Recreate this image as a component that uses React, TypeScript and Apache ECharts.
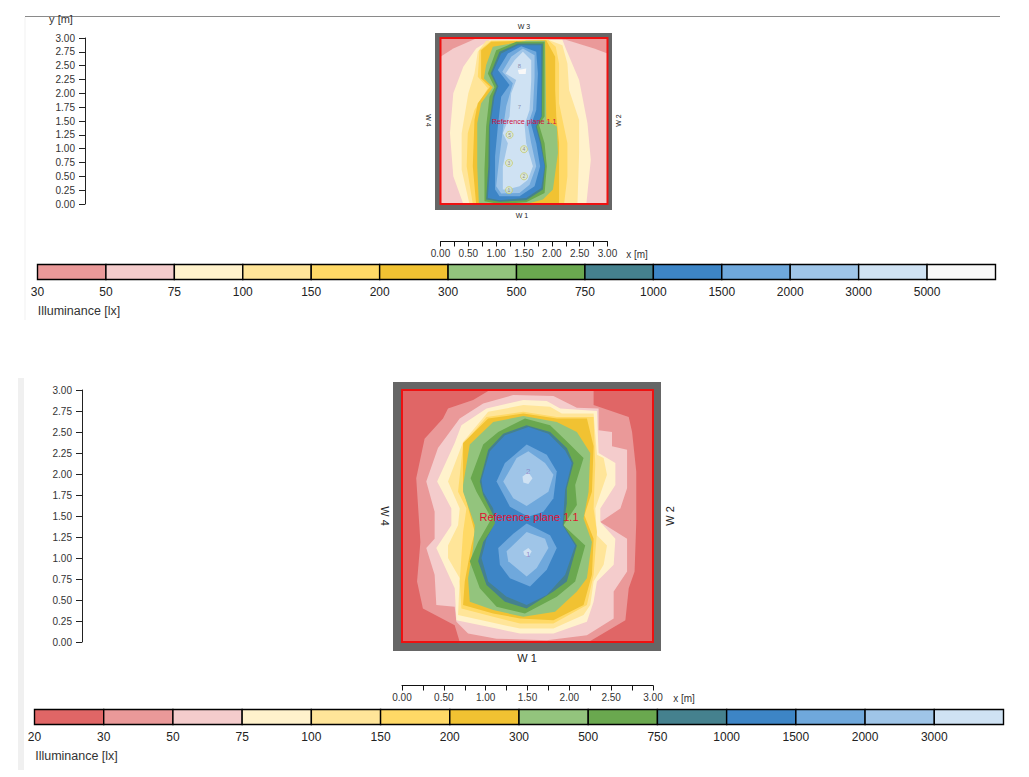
import React, { useEffect, useRef } from "react";
import * as echarts from "echarts";

type Ring = number[][];
type Contour = { color: string; rings: Ring[] };

const FONT = '"Liberation Sans", Arial, sans-serif';

const PALETTE: Record<number, string> = {
  20: "#e06666", 30: "#ea9999", 50: "#f4cccc", 75: "#fff2cc", 100: "#ffe599", 150: "#ffd966", 200: "#f1c232",
  300: "#93c47d", 500: "#6aa84f", 750: "#45818e", 1000: "#3d85c6", 1500: "#6fa8dc", 2000: "#9fc5e8",
  3000: "#cfe2f3", 5000: "#f8f8f8",
};

const axisTicks = [0, 0.25, 0.5, 0.75, 1, 1.25, 1.5, 1.75, 2, 2.25, 2.5, 2.75, 3];
const legendLevelsTop = [30, 50, 75, 100, 150, 200, 300, 500, 750, 1000, 1500, 2000, 3000, 5000];
const legendLevelsBottom = [20, 30, 50, 75, 100, 150, 200, 300, 500, 750, 1000, 1500, 2000, 3000];

const fullRoom: Ring = [[0, 0], [3, 0], [3, 3], [0, 3]];

// --- Upper plan: isolux contours in metres
const top50: Ring = [[0, 0], [3, 0], [3, 2.72], [2.76, 2.81], [2.25, 2.97], [0.64, 2.99], [0.23, 2.81], [0, 2.66]];
const top75: Ring = [[0.41, 0], [0.23, 0.5], [0.17, 1.28], [0.23, 2.0], [0.41, 2.48], [0.64, 2.81], [0.88, 2.96], [2.19, 2.97], [2.25, 2.81], [2.49, 2.24], [2.64, 1.46], [2.7, 0.8], [2.62, 0]];
const top100: Ring = [[0.52, 0], [0.38, 0.62], [0.38, 1.28], [0.5, 2.0], [0.61, 2.36], [0.67, 2.75], [0.82, 2.95], [1.93, 2.97], [2.19, 2.87], [2.28, 2.54], [2.31, 2.06], [2.49, 1.52], [2.49, 0.92], [2.46, 0]];
const top150: Ring = [[0.58, 0], [0.47, 0.68], [0.49, 1.28], [0.61, 1.7], [0.85, 2.09], [0.67, 2.3], [0.7, 2.78], [0.91, 2.95], [1.93, 2.97], [2.07, 2.84], [2.13, 2.54], [2.13, 1.82], [2.28, 1.1], [2.28, 0.5], [2.22, 0]];
const top200: Ring = [[0.64, 0], [0.58, 0.68], [0.61, 1.52], [0.67, 1.82], [0.89, 2.12], [0.73, 2.27], [0.73, 2.78], [0.91, 2.93], [1.9, 2.96], [2.06, 2.66], [2.06, 2.06], [2.08, 1.58], [2.13, 1.1], [2.13, 0]];
const top300: Ring = [[0.69, 0], [0.66, 0.68], [0.66, 1.46], [0.73, 1.82], [0.94, 2.11], [0.78, 2.27], [0.82, 2.51], [0.94, 2.84], [1.54, 2.95], [1.88, 2.95], [1.9, 1.52], [2.09, 1.4], [2.11, 0.92], [2.02, 0.26], [1.84, 0.08], [1.54, 0]];
const top500: Ring = [[0.79, 0.05], [0.79, 0.62], [0.82, 1.4], [0.88, 1.94], [0.97, 2.11], [0.85, 2.36], [1.0, 2.78], [1.36, 2.93], [1.87, 2.93], [1.87, 1.58], [1.77, 1.43], [1.87, 1.1], [1.91, 0.68], [1.87, 0.2], [1.54, 0.03], [1.06, 0]];
const top750: Ring = [[0.82, 0.08], [0.86, 0.68], [0.87, 1.4], [0.94, 1.94], [1.01, 2.13], [0.9, 2.36], [1.06, 2.75], [1.39, 2.9], [1.84, 2.9], [1.82, 1.58], [1.73, 1.4], [1.81, 1.1], [1.88, 0.68], [1.84, 0.26], [1.54, 0.07], [1.06, 0.04]];
const top1000: Ring = [[0.85, 0.11], [0.89, 0.68], [0.89, 1.4], [0.97, 1.94], [1.04, 2.13], [0.93, 2.36], [1.09, 2.72], [1.39, 2.87], [1.81, 2.87], [1.81, 1.58], [1.71, 1.4], [1.79, 1.1], [1.87, 0.68], [1.81, 0.29], [1.54, 0.11], [1.06, 0.07]];
const top1500: Ring = [[0.98, 0.26], [0.98, 0.86], [1.03, 1.4], [1.09, 1.94], [1.24, 2.15], [1.03, 2.42], [1.21, 2.72], [1.45, 2.85], [1.72, 2.75], [1.75, 2.36], [1.72, 1.7], [1.63, 1.43], [1.72, 1.1], [1.79, 0.68], [1.69, 0.32], [1.42, 0.14], [1.06, 0.14]];
const top2000: Ring = [[1.0, 0.32], [1.06, 0.86], [1.12, 1.34], [1.18, 1.76], [1.3, 2.18], [1.11, 2.39], [1.27, 2.66], [1.48, 2.81], [1.69, 2.69], [1.69, 2.3], [1.66, 1.7], [1.57, 1.43], [1.63, 1.1], [1.72, 0.68], [1.6, 0.35], [1.42, 0.2], [1.09, 0.19]];
const top3000: Ring = [[1.12, 0.26], [1.12, 0.68], [1.21, 1.1], [1.12, 1.28], [1.24, 1.58], [1.27, 2.0], [1.36, 2.24], [1.17, 2.36], [1.33, 2.6], [1.48, 2.75], [1.63, 2.6], [1.63, 2.24], [1.6, 1.7], [1.51, 1.43], [1.54, 1.1], [1.66, 0.68], [1.57, 0.44], [1.42, 0.32], [1.18, 0.26]];
const top5000: Ring = [[1.39, 2.42], [1.54, 2.45], [1.53, 2.35], [1.41, 2.35]];

// --- Lower plan: isolux contours in metres
const low30: Ring = [[0.17, 1.95], [0.27, 2.42], [0.49, 2.66], [0.55, 2.78], [0.85, 2.88], [1.05, 3], [2.29, 3], [2.29, 2.82], [2.71, 2.68], [2.75, 2.5], [2.8, 2.03], [2.8, 1.43], [2.78, 0.84], [2.71, 0.64], [2.67, 0.26], [2.23, 0], [0.69, 0], [0.63, 0.2], [0.25, 0.4], [0.18, 0.72], [0.22, 1.19]];
const low50: Ring = [[0.29, 1.91], [0.43, 2.31], [0.69, 2.66], [0.97, 2.84], [1.33, 2.94], [1.81, 2.93], [2.09, 2.79], [2.35, 2.78], [2.35, 2.52], [2.51, 2.5], [2.51, 2.33], [2.69, 2.29], [2.69, 1.83], [2.61, 1.59], [2.37, 1.43], [2.69, 1.23], [2.69, 0.84], [2.53, 0.6], [2.53, 0.28], [2.21, 0.08], [1.73, 0.02], [1.13, 0.04], [0.79, 0.1], [0.65, 0.24], [0.63, 0.42], [0.41, 0.44], [0.39, 0.8], [0.29, 1.12], [0.39, 1.23], [0.39, 1.55]];
const low75: Ring = [[0.42, 1.91], [0.63, 2.37], [0.71, 2.58], [1.01, 2.78], [1.45, 2.88], [1.73, 2.87], [1.89, 2.78], [2.33, 2.75], [2.35, 2.25], [2.55, 2.13], [2.55, 1.87], [2.37, 1.59], [2.37, 1.43], [2.55, 1.23], [2.53, 0.92], [2.33, 0.72], [2.29, 0.48], [2.21, 0.24], [1.81, 0.1], [1.41, 0.1], [1.13, 0.16], [0.65, 0.26], [0.63, 0.64], [0.41, 1.12], [0.59, 1.39], [0.59, 1.59]];
const low100: Ring = [[0.55, 1.91], [0.73, 2.38], [1.03, 2.74], [1.45, 2.82], [1.77, 2.8], [1.91, 2.72], [2.29, 2.72], [2.33, 2.23], [2.41, 2.19], [2.45, 1.99], [2.31, 1.59], [2.33, 1.27], [2.45, 1.15], [2.41, 0.92], [2.29, 0.72], [2.25, 0.44], [2.17, 0.32], [1.81, 0.16], [1.41, 0.16], [1.13, 0.22], [0.67, 0.32], [0.69, 0.76], [0.55, 1.0], [0.55, 1.15], [0.67, 1.39], [0.69, 1.59]];
const low150: Ring = [[0.67, 1.79], [0.73, 2.35], [1.01, 2.68], [1.45, 2.74], [1.85, 2.68], [2.29, 2.68], [2.31, 2.11], [2.29, 1.59], [2.33, 1.31], [2.29, 0.8], [2.21, 0.44], [1.81, 0.22], [1.41, 0.22], [1.09, 0.3], [0.71, 0.4], [0.69, 0.72], [0.73, 1.31], [0.77, 1.59]];
const low200: Ring = [[0.73, 1.83], [0.73, 2.37], [1.03, 2.66], [1.45, 2.72], [1.85, 2.66], [2.21, 2.66], [2.29, 2.33], [2.27, 1.79], [2.18, 1.51], [2.29, 1.23], [2.27, 0.8], [2.17, 0.44], [1.81, 0.26], [1.41, 0.28], [1.09, 0.34], [0.73, 0.44], [0.75, 0.72], [0.83, 1.15], [0.87, 1.31], [0.75, 1.75]];
const low300: Ring = [[0.73, 1.87], [0.81, 2.35], [1.09, 2.62], [1.45, 2.69], [1.85, 2.62], [2.09, 2.5], [2.25, 2.25], [2.23, 1.79], [2.17, 1.47], [2.27, 1.19], [2.21, 0.76], [2.09, 0.6], [1.83, 0.36], [1.45, 0.3], [1.09, 0.38], [0.81, 0.48], [0.79, 0.76], [0.85, 1.12], [0.87, 1.39], [0.73, 1.79]];
const low500: Ring = [[0.82, 1.95], [0.97, 2.35], [1.15, 2.5], [1.47, 2.66], [1.77, 2.58], [1.99, 2.37], [2.17, 2.19], [2.07, 1.87], [2.09, 1.63], [1.93, 1.39], [2.19, 1.15], [2.07, 0.72], [1.85, 0.54], [1.47, 0.34], [1.13, 0.42], [0.93, 0.64], [0.81, 0.96], [0.91, 1.19], [1.07, 1.47], [0.89, 1.79]];
const low750: Ring = [[0.93, 1.91], [1.03, 2.29], [1.21, 2.48], [1.49, 2.58], [1.77, 2.5], [1.97, 2.31], [2.05, 2.13], [1.97, 1.83], [1.97, 1.65], [1.93, 1.39], [2.09, 1.15], [1.97, 0.72], [1.81, 0.6], [1.49, 0.4], [1.23, 0.48], [1.01, 0.68], [0.91, 0.96], [0.97, 1.19], [1.13, 1.43], [0.97, 1.75]];
const low1000: Ring = [[0.95, 1.93], [1.05, 2.27], [1.23, 2.46], [1.51, 2.56], [1.75, 2.48], [1.95, 2.28], [2.03, 2.13], [1.95, 1.81], [1.92, 1.39], [2.07, 1.15], [1.95, 0.8], [1.73, 0.56], [1.49, 0.44], [1.25, 0.54], [1.03, 0.72], [0.95, 1.0], [1.01, 1.23], [1.11, 1.41], [1.09, 1.59], [0.97, 1.79]];
const low1500a: Ring = [[1.13, 1.91], [1.23, 2.13], [1.49, 2.35], [1.73, 2.23], [1.85, 2.03], [1.81, 1.71], [1.69, 1.55], [1.51, 1.49], [1.29, 1.61]];
const low1500b: Ring = [[1.15, 1.12], [1.33, 1.29], [1.49, 1.41], [1.77, 1.27], [1.85, 1.12], [1.73, 0.86], [1.53, 0.66], [1.29, 0.76], [1.17, 0.92]];
const low2000a: Ring = [[1.21, 1.91], [1.37, 2.19], [1.51, 2.27], [1.71, 2.13], [1.81, 1.99], [1.75, 1.79], [1.49, 1.62], [1.33, 1.71]];
const low2000b: Ring = [[1.25, 1.08], [1.49, 1.31], [1.71, 1.23], [1.75, 1.12], [1.61, 0.88], [1.49, 0.78], [1.27, 0.96]];
const low3000a: Ring = [[1.44, 1.97], [1.51, 2.02], [1.56, 1.95], [1.51, 1.88], [1.45, 1.9]];
const low3000b: Ring = [[1.45, 1.08], [1.51, 1.12], [1.55, 1.08], [1.51, 1.01], [1.46, 1.04]];

const luminairesTop = [[1.23, 0.25, "1"], [1.5, 0.5, "2"], [1.23, 0.74, "3"], [1.5, 0.99, "4"], [1.24, 1.25, "5"]];
const labelsTop = [[1.42, 1.75, "7"], [1.42, 2.49, "8"]];
const labelsLow = [[1.51, 1.04, "1"], [1.51, 2.03, "2"]];

const topContours: Contour[] = [
  { color: PALETTE[30], rings: [fullRoom] },
  { color: PALETTE[50], rings: [top50] },
  { color: PALETTE[75], rings: [top75] },
  { color: PALETTE[100], rings: [top100] },
  { color: PALETTE[150], rings: [top150] },
  { color: PALETTE[200], rings: [top200] },
  { color: PALETTE[300], rings: [top300] },
  { color: PALETTE[500], rings: [top500] },
  { color: PALETTE[750], rings: [top750] },
  { color: PALETTE[1000], rings: [top1000] },
  { color: PALETTE[1500], rings: [top1500] },
  { color: PALETTE[2000], rings: [top2000] },
  { color: PALETTE[3000], rings: [top3000] },
  { color: PALETTE[5000], rings: [top5000] },
];

const lowContours: Contour[] = [
  { color: PALETTE[20], rings: [fullRoom] },
  { color: PALETTE[30], rings: [low30] },
  { color: PALETTE[50], rings: [low50] },
  { color: PALETTE[75], rings: [low75] },
  { color: PALETTE[100], rings: [low100] },
  { color: PALETTE[150], rings: [low150] },
  { color: PALETTE[200], rings: [low200] },
  { color: PALETTE[300], rings: [low300] },
  { color: PALETTE[500], rings: [low500] },
  { color: PALETTE[750], rings: [low750] },
  { color: PALETTE[1000], rings: [low1000] },
  { color: PALETTE[1500], rings: [low1500a, low1500b] },
  { color: PALETTE[2000], rings: [low2000a, low2000b] },
  { color: PALETTE[3000], rings: [low3000a, low3000b] },
];

function contourSeries(list: Contour[], axis: number, borderWidth: number) {
  return {
    type: "custom",
    xAxisIndex: axis,
    yAxisIndex: axis,
    coordinateSystem: "cartesian2d",
    silent: true,
    clip: false,
    z: 2,
    data: list.map((_, i) => [i]),
    renderItem: (params: any, api: any) => {
      const c = list[params.dataIndex];
      const children = c.rings.map((ring) => ({
        type: "polygon",
        shape: { points: ring.map((p) => api.coord(p)) },
        style: { fill: c.color, stroke: "none" },
      }));
      if (params.dataIndex === list.length - 1) {
        children.push({
          type: "polygon",
          shape: { points: fullRoom.map((p) => api.coord(p)) },
          style: { fill: "none", stroke: "#ee1111", lineWidth: borderWidth },
        } as any);
      }
      return { type: "group", children };
    },
  };
}

function legendSeries(levels: number[], axis: number) {
  return {
    type: "custom",
    xAxisIndex: axis,
    yAxisIndex: axis,
    coordinateSystem: "cartesian2d",
    silent: true,
    data: levels.map((_, i) => [i]),
    renderItem: (params: any, api: any) => {
      const i = params.dataIndex;
      const a = api.coord([i, 1]);
      const b = api.coord([i + 1, 0]);
      return {
        type: "rect",
        shape: { x: a[0], y: a[1], width: b[0] - a[0], height: b[1] - a[1] },
        style: { fill: PALETTE[levels[i]], stroke: "#000", lineWidth: 1.4 },
      };
    },
  };
}

const tickFmt = (v: number) => (Math.abs(v * 2 - Math.round(v * 2)) < 1e-6 ? v.toFixed(2) : "");

function planXAxis(grid: number, offset: number, fontSize: number) {
  return {
    type: "value", gridIndex: grid, min: axisTicks[0], max: axisTicks[axisTicks.length - 1], interval: 0.25,
    position: "bottom", offset,
    axisLine: { show: true, onZero: false, lineStyle: { color: "#111", width: 1 } },
    axisTick: { show: true, length: 5, lineStyle: { color: "#111" } },
    splitLine: { show: false },
    axisLabel: { show: true, showMinLabel: true, showMaxLabel: true, hideOverlap: false, formatter: tickFmt, fontSize, margin: 7, color: "#333", fontFamily: FONT },
  };
}

function planYAxis(grid: number, offset: number) {
  return {
    type: "value", gridIndex: grid, min: axisTicks[0], max: axisTicks[axisTicks.length - 1], interval: 0.25,
    position: "left", offset,
    axisLine: { show: true, onZero: false, lineStyle: { color: "#222", width: 1 } },
    axisTick: { show: true, length: 6, lineStyle: { color: "#222" } },
    splitLine: { show: false },
    axisLabel: { show: true, hideOverlap: false, formatter: (v: number) => v.toFixed(2), fontSize: 10, margin: 10, color: "#333", fontFamily: FONT },
  };
}

function legendXAxis(grid: number, levels: number[]) {
  return {
    type: "value", gridIndex: grid, min: 0, max: levels.length, interval: 1,
    axisLine: { show: false }, axisTick: { show: false }, splitLine: { show: false },
    axisLabel: { show: true, hideOverlap: false, showMaxLabel: true, formatter: (v: number) => (v < levels.length ? String(levels[v]) : ""), fontSize: 12, margin: 6, color: "#222", fontFamily: FONT },
  };
}

function legendYAxis(grid: number) {
  return { type: "value", gridIndex: grid, min: 0, max: 1, show: false };
}

function txt(x: number, y: number, text: string, fontSize: number, fill = "#222", extra: any = {}) {
  return {
    type: "text", x, y, z: 20,
    style: { text, fontSize, fill, fontFamily: FONT, align: "center", verticalAlign: "middle" },
    ...extra,
  };
}

export default function App() {
  const ref = useRef<HTMLDivElement>(null);
  useEffect(() => {
    const chart = echarts.init(ref.current!, undefined, { renderer: "svg" });
    chart.setOption({
      animation: false,
      backgroundColor: "#fff",
      textStyle: { fontFamily: FONT },
      grid: [
        { left: 440.5, top: 38, width: 167, height: 166 },
        { left: 402, top: 390, width: 251, height: 252 },
        { left: 37.5, top: 264.5, width: 958, height: 15 },
        { left: 34.5, top: 709.5, width: 969, height: 15 },
      ],
      xAxis: [planXAxis(0, 37.5, 10), planXAxis(1, 43.5, 10), legendXAxis(2, legendLevelsTop), legendXAxis(3, legendLevelsBottom)],
      yAxis: [planYAxis(0, 355.5), planYAxis(1, 320), legendYAxis(2), legendYAxis(3)],
      series: [
        contourSeries(topContours, 0, 2),
        contourSeries(lowContours, 1, 2),
        legendSeries(legendLevelsTop, 2),
        legendSeries(legendLevelsBottom, 3),
        {
          type: "scatter", xAxisIndex: 0, yAxisIndex: 0, silent: true, z: 5,
          symbolSize: 7,
          itemStyle: { color: "rgba(230,235,190,0.6)", borderColor: "#c5cc70", borderWidth: 1 },
          label: { show: true, position: "inside", formatter: (p: any) => p.value[2], fontSize: 5, color: "#777", fontFamily: FONT },
          data: luminairesTop,
        },
        {
          type: "scatter", xAxisIndex: 0, yAxisIndex: 0, silent: true, z: 5,
          symbolSize: 1, itemStyle: { color: "transparent" },
          label: { show: true, position: "inside", formatter: (p: any) => p.value[2], fontSize: 6, color: "#7a7aa0", fontFamily: FONT },
          data: labelsTop,
        },
        {
          type: "scatter", xAxisIndex: 1, yAxisIndex: 1, silent: true, z: 5,
          symbolSize: 1, itemStyle: { color: "transparent" },
          label: { show: true, position: "inside", formatter: (p: any) => p.value[2], fontSize: 8, color: "#8a7ac0", fontFamily: FONT },
          data: labelsLow,
        },
      ],
      graphic: [
        { type: "rect", z: 15, shape: { x: 0, y: 0, width: 1029, height: 16 }, style: { fill: "#fff" } },
        { type: "line", z: 16, shape: { x1: 25, y1: 16.5, x2: 1000, y2: 16.5 }, style: { stroke: "#8a8a8a", lineWidth: 1 } },
        { type: "rect", z: -1, shape: { x: 24, y: 17, width: 2, height: 303 }, style: { fill: "#f8f8f8" } },
        { type: "rect", z: -1, shape: { x: 18, y: 378, width: 6, height: 392 }, style: { fill: "#f0f0f0" } },
        { type: "rect", z: -1, shape: { x: 435, y: 33, width: 177, height: 177 }, style: { fill: "#666666" } },
        { type: "rect", z: -1, shape: { x: 393, y: 382, width: 268, height: 269 }, style: { fill: "#666666" } },
        txt(61, 19, "y [m]", 11, "#333"),
        txt(637, 254, "x [m]", 10, "#333"),
        txt(684, 698, "x [m]", 10, "#333"),
        txt(524, 26.5, "W 3", 7),
        txt(522, 215, "W 1", 7),
        txt(428, 120.5, "W 4", 7, "#222", { rotation: -Math.PI / 2 }),
        txt(618, 120.5, "W 2", 7, "#222", { rotation: Math.PI / 2 }),
        txt(527, 658, "W 1", 11),
        txt(385, 516, "W 4", 11, "#222", { rotation: -Math.PI / 2 }),
        txt(670, 516, "W 2", 11, "#222", { rotation: Math.PI / 2 }),
        txt(524, 121, "Reference plane 1.1", 7.2, "#d01040"),
        txt(529, 517, "Reference plane 1.1", 11, "#e01030"),
        txt(79, 311, "Illuminance [lx]", 12.5, "#333"),
        txt(76.5, 756, "Illuminance [lx]", 12.5, "#333"),
      ],
    });
    return () => chart.dispose();
  }, []);
  return <div ref={ref} style={{ position: "fixed", left: 0, top: 0, width: 1029, height: 777 }} />;
}
